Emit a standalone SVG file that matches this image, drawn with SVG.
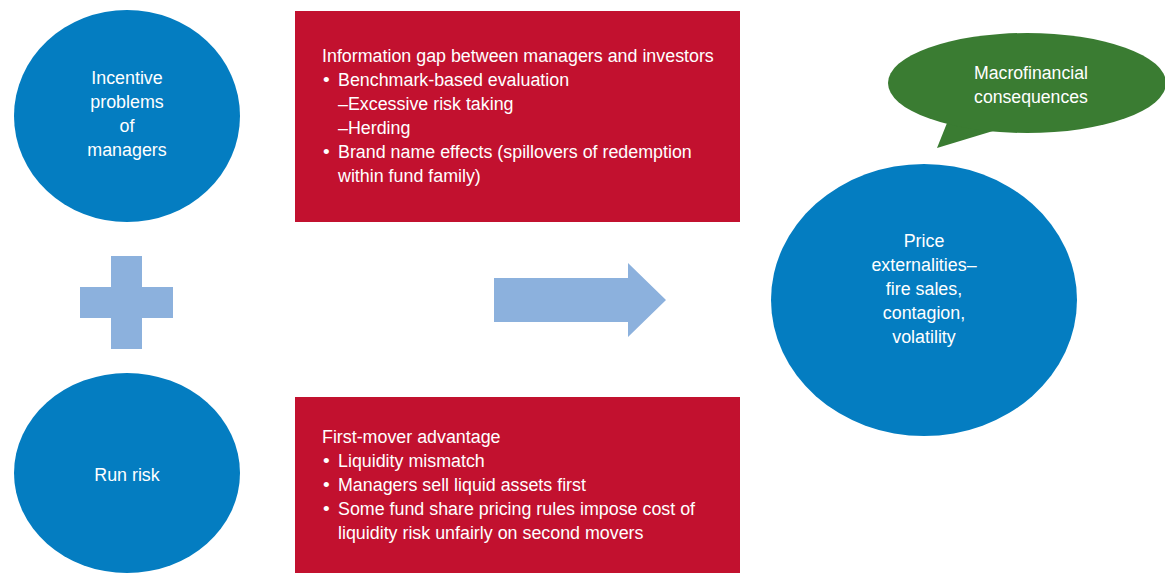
<svg xmlns="http://www.w3.org/2000/svg" width="1165" height="573" viewBox="0 0 1165 573">
<style>
.blue{fill:#047dc1}
.red{fill:#c2112f}
.green{fill:#3a7c32}
.lb{fill:#8cb1dd}
text{font-family:"Liberation Sans Narrow","Liberation Sans",sans-serif;font-size:19px;fill:#ffffff}
.c{text-anchor:middle}
</style>
<rect width="1165" height="573" fill="#ffffff"/>
<g id="incentive">
<ellipse class="blue" cx="127" cy="116" rx="113" ry="106"/>
<g transform="translate(127,0) scale(0.94,1) translate(-127,0)">
<text class="c" x="127" y="84">Incentive</text>
<text class="c" x="127" y="108">problems</text>
<text class="c" x="127" y="132">of</text>
<text class="c" x="127" y="156">managers</text>
</g>
</g>
<g id="plus">
<rect class="lb" x="111" y="256" width="31" height="93"/>
<rect class="lb" x="80" y="287" width="93" height="31"/>
</g>
<g id="runrisk">
<ellipse class="blue" cx="127" cy="473" rx="113" ry="100"/>
<g transform="translate(127,0) scale(0.94,1) translate(-127,0)">
<text class="c" x="127" y="481">Run risk</text>
</g>
</g>
<g id="infogap">
<rect class="red" x="295" y="11" width="445" height="211"/>
<g transform="translate(322,0) scale(0.94,1) translate(-322,0)">
<text x="322" y="62">Information gap between managers and investors</text>
</g>
<text x="323" y="86">•</text>
<text x="323" y="158">•</text>
<g transform="translate(338,0) scale(0.94,1) translate(-338,0)">
<text x="338" y="86">Benchmark-based evaluation</text>
<text x="338" y="110">–Excessive risk taking</text>
<text x="338" y="134">–Herding</text>
<text x="338" y="158">Brand name effects (spillovers of redemption</text>
<text x="338" y="182">within fund family)</text>
</g>
</g>
<g id="firstmover">
<rect class="red" x="295" y="397" width="445" height="176"/>
<g transform="translate(322,0) scale(0.94,1) translate(-322,0)">
<text x="322" y="443">First-mover advantage</text>
</g>
<text x="323" y="467">•</text>
<text x="323" y="491">•</text>
<text x="323" y="515">•</text>
<g transform="translate(338,0) scale(0.94,1) translate(-338,0)">
<text x="338" y="467">Liquidity mismatch</text>
<text x="338" y="491">Managers sell liquid assets first</text>
<text x="338" y="515">Some fund share pricing rules impose cost of</text>
<text x="338" y="539">liquidity risk unfairly on second movers</text>
</g>
</g>
<g id="connectors">
<polygon class="lb" points="494,278 628,278 628,263 666,300 628,337 628,322 494,322"/>
</g>
<g id="price">
<ellipse class="blue" cx="924" cy="300" rx="153" ry="136"/>
<g transform="translate(924,0) scale(0.94,1) translate(-924,0)">
<text class="c" x="924" y="247">Price</text>
<text class="c" x="924" y="271">externalities–</text>
<text class="c" x="924" y="295">fire sales,</text>
<text class="c" x="924" y="319">contagion,</text>
<text class="c" x="924" y="343">volatility</text>
</g>
</g>
<g id="macro">
<path class="green" d="M947,123 L937,148 L993,131 Z"/>
<ellipse class="green" cx="1027" cy="83" rx="139" ry="50"/>
<g transform="translate(1031,0) scale(0.93,1) translate(-1031,0)">
<text class="c" x="1031" y="79">Macrofinancial</text>
<text class="c" x="1031" y="103">consequences</text>
</g>
</g>
</svg>
